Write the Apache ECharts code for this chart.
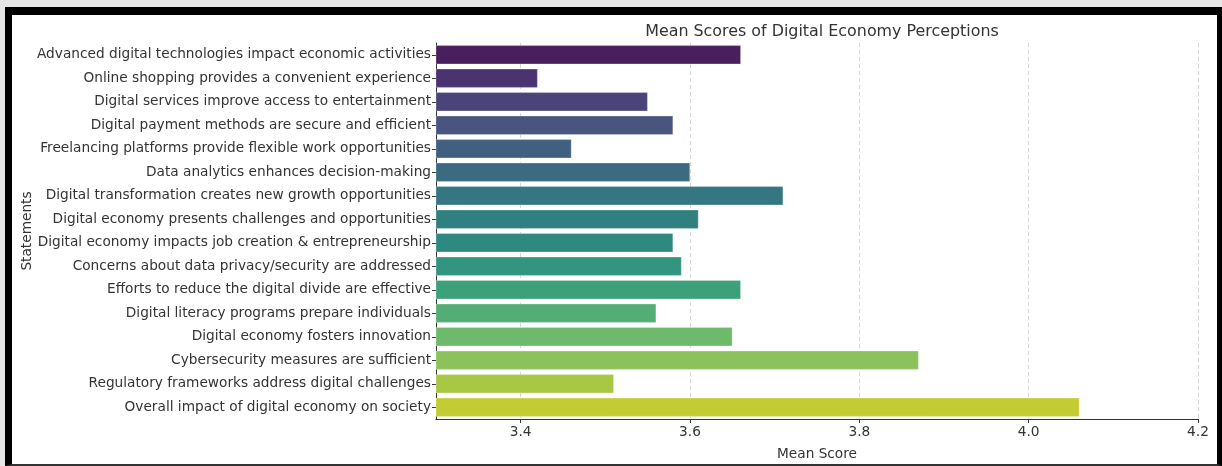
<!DOCTYPE html>
<html>
<head>
<meta charset="utf-8">
<script src="https://cdn.jsdelivr.net/npm/echarts@6/dist/echarts.min.js"></script>
<style>
  html, body { margin: 0; padding: 0; width: 1222px; height: 466px; background: #e6e6e6; overflow: hidden; }
  #frame { position: absolute; left: 5px; top: 7px; width: 1205px; height: 449px; background: #fff;
           border-left: 7px solid #000; border-top: 8px solid #000; border-right: 5px solid #000; border-bottom: 2px solid #333; }
  #chart { position: absolute; left: 0; top: 0; width: 1222px; height: 466px; }
</style>
</head>
<body>
<div id="frame"></div>
<div id="chart"></div>
<script>
const categories = [
  "Advanced digital technologies impact economic activities",
  "Online shopping provides a convenient experience",
  "Digital services improve access to entertainment",
  "Digital payment methods are secure and efficient",
  "Freelancing platforms provide flexible work opportunities",
  "Data analytics enhances decision-making",
  "Digital transformation creates new growth opportunities",
  "Digital economy presents challenges and opportunities",
  "Digital economy impacts job creation & entrepreneurship",
  "Concerns about data privacy/security are addressed",
  "Efforts to reduce the digital divide are effective",
  "Digital literacy programs prepare individuals",
  "Digital economy fosters innovation",
  "Cybersecurity measures are sufficient",
  "Regulatory frameworks address digital challenges",
  "Overall impact of digital economy on society"
];
const meanScores = [3.66, 3.42, 3.55, 3.58, 3.46, 3.60, 3.71, 3.61, 3.58, 3.59, 3.66, 3.56, 3.65, 3.87, 3.51, 4.06];
const xTicks = [3.4, 3.6, 3.8, 4.0, 4.2];
const barColors = [
  "#4a1f5e", "#4b3270", "#4b447a", "#47557f", "#406082", "#3b6b80", "#357683", "#2f807f",
  "#2e8a80", "#329580", "#3ca17a", "#52ae74", "#6cba6a", "#8cc25c", "#a8c745", "#c4cc34"
];

const chart = echarts.init(document.getElementById('chart'), null, { renderer: 'canvas' });
const font = "'DejaVu Sans', sans-serif";
const fs = 13.7;
chart.setOption({
  backgroundColor: 'transparent',
  animation: false,
  textStyle: { fontFamily: font },
  title: {
    text: 'Mean Scores of Digital Economy Perceptions',
    left: 817, top: 19, textAlign: 'center',
    textStyle: { fontFamily: font, fontSize: 15.9, fontWeight: 'normal', color: '#333' }
  },
  grid: { left: 436, right: 24, top: 43, bottom: 44, containLabel: false },
  xAxis: {
    type: 'value', min: 3.3, max: 4.2,
    name: 'Mean Score', nameLocation: 'middle', nameGap: 28,
    nameTextStyle: { fontFamily: font, fontSize: fs, color: '#333' },
    axisLine: { show: true, lineStyle: { color: '#333', width: 1 } },
    axisTick: { show: true, length: 4, inside: false, customValues: xTicks, lineStyle: { color: '#333' } },
    axisLabel: { customValues: xTicks, margin: 6, fontSize: fs, color: '#333', fontFamily: font,
                 formatter: v => v.toFixed(1) },
    splitLine: { show: true, lineStyle: { type: [4, 3], color: '#d6d6d6', width: 1 } }
  },
  yAxis: {
    type: 'category', data: categories, inverse: true,
    name: 'Statements', nameLocation: 'middle', nameGap: 402, nameRotate: 90,
    nameMoveOverlap: false,
    nameTextStyle: { fontFamily: font, fontSize: fs, color: '#333' },
    axisLine: { show: true, lineStyle: { color: '#333', width: 1 } },
    axisTick: { show: true, length: 4, alignWithLabel: true, lineStyle: { color: '#333' } },
    axisLabel: { margin: 5, fontSize: fs, color: '#333', fontFamily: font },
    splitLine: { show: false }
  },
  series: [{
    type: 'bar',
    data: meanScores.map((v, i) => ({ value: v, itemStyle: { color: barColors[i] } })),
    barCategoryGap: '20%',
    itemStyle: { borderColor: 'rgba(255,255,255,0.5)', borderWidth: 0.5 }
  }]
});
</script>
</body>
</html>
